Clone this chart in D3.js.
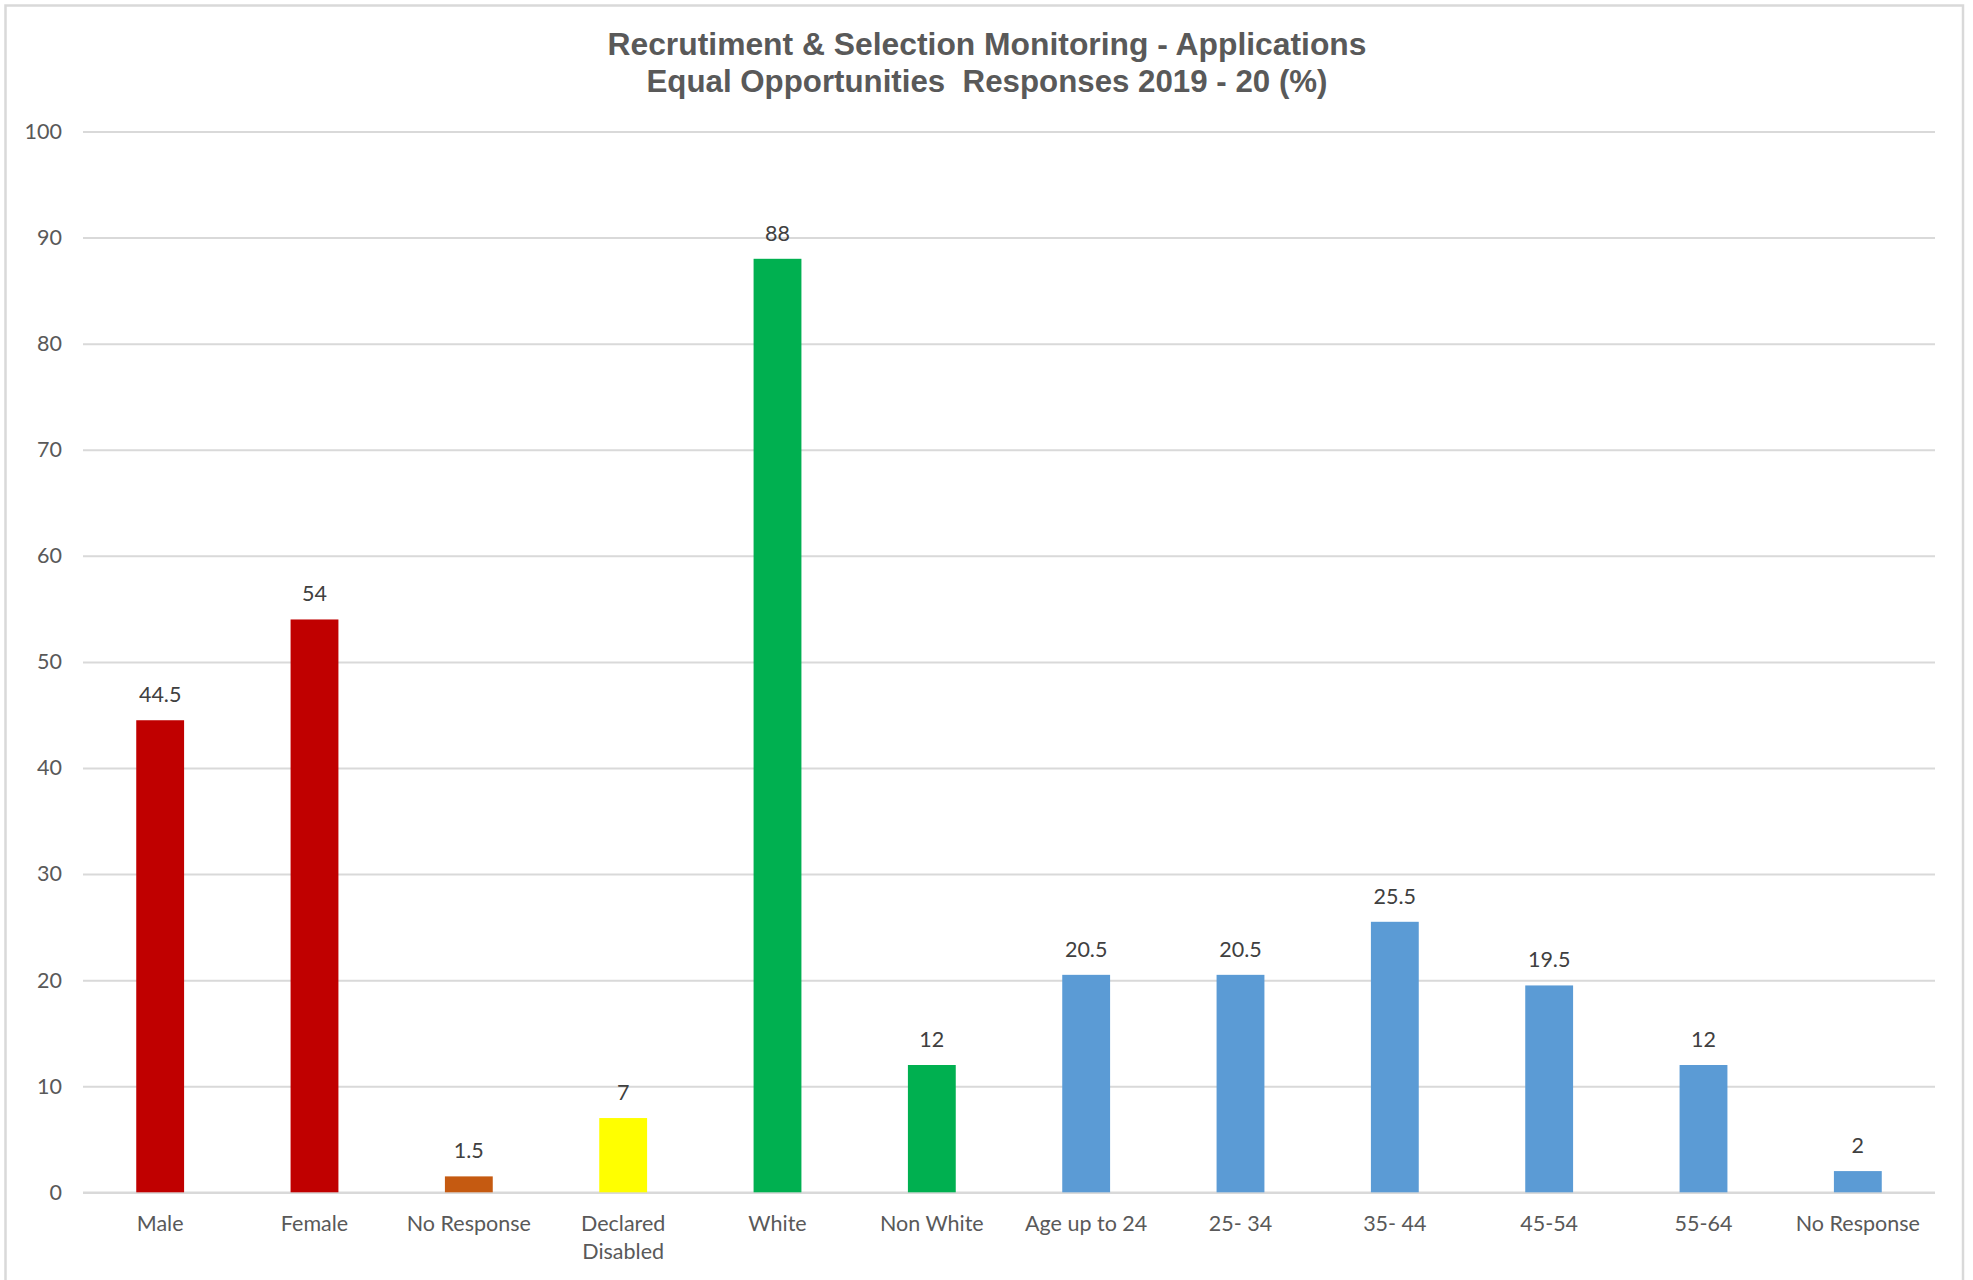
<!DOCTYPE html>
<html>
<head>
<meta charset="utf-8">
<script src="https://cdn.jsdelivr.net/npm/d3@7"></script>
<style>
  html, body { margin: 0; padding: 0; background: #fff; }
  svg { display: block; }
</style>
</head>
<body>
<svg id="chart" width="1973" height="1280"></svg>
<script>
const titleLines = [
  "Recrutiment & Selection Monitoring - Applications",
  "Equal Opportunities  Responses 2019 - 20 (%)"
];
const categories = ["Male", "Female", "No Response", "Declared\nDisabled", "White", "Non White",
  "Age up to 24", "25- 34", "35- 44", "45-54", "55-64", "No Response "];
const values = [44.5, 54, 1.5, 7, 88, 12, 20.5, 20.5, 25.5, 19.5, 12, 2];
const barColors = ["#C00000", "#C00000", "#C55A11", "#FFFF00", "#00B050", "#00B050",
  "#5B9BD5", "#5B9BD5", "#5B9BD5", "#5B9BD5", "#5B9BD5", "#5B9BD5"];
const yTicks = [0, 10, 20, 30, 40, 50, 60, 70, 80, 90, 100];

const svg = d3.select("#chart");
const plot = { left: 83, right: 1935, top: 131.5, bottom: 1192.3 };
const labelFont = "Lato, Carlito, 'Open Sans', sans-serif";

// outer chart border
svg.append("rect")
  .attr("x", 5.5).attr("y", 5.5)
  .attr("width", 1957.5).attr("height", 1290)
  .attr("fill", "#fff")
  .attr("stroke", "#D9D9D9").attr("stroke-width", 2.5);

const x = d3.scaleBand()
  .domain(categories)
  .range([plot.left, plot.right])
  .paddingInner(0.69)
  .paddingOuter(0.345);

const y = d3.scaleLinear()
  .domain([0, 100])
  .range([plot.bottom, plot.top]);

// gridlines + y tick labels
const yAxis = d3.axisLeft(y)
  .tickValues(yTicks)
  .tickSize(-(plot.right - plot.left))
  .tickPadding(21)
  .tickFormat(d3.format("d"));

const gy = svg.append("g")
  .attr("transform", `translate(${plot.left},0)`)
  .call(yAxis);
gy.select(".domain").remove();
gy.selectAll(".tick line")
  .attr("stroke", "#D9D9D9")
  .attr("stroke-width", d => d === 0 ? 2.5 : 2);
gy.selectAll(".tick text")
  .attr("fill", "#595959")
  .attr("font-family", labelFont)
  .attr("font-size", 21.5);

// bars
svg.append("g").selectAll("rect")
  .data(values)
  .join("rect")
  .attr("x", (d, i) => x(categories[i]))
  .attr("y", d => y(d))
  .attr("width", x.bandwidth())
  .attr("height", d => y(0) - y(d))
  .attr("fill", (d, i) => barColors[i]);

// value labels
svg.append("g").selectAll("text")
  .data(values)
  .join("text")
  .attr("x", (d, i) => x(categories[i]) + x.bandwidth() / 2)
  .attr("y", d => y(d) - 18)
  .attr("text-anchor", "middle")
  .attr("fill", "#404040")
  .attr("font-family", labelFont)
  .attr("font-size", 21.5)
  .text(d => d);

// category labels
const gx = svg.append("g");
categories.forEach(c => {
  const cx = x(c) + x.bandwidth() / 2;
  const t = gx.append("text")
    .attr("x", cx)
    .attr("y", 1231)
    .attr("text-anchor", "middle")
    .attr("fill", "#595959")
    .attr("font-family", labelFont)
    .attr("font-size", 21.5);
  c.trim().split("\n").forEach((line, j) => {
    t.append("tspan")
      .attr("x", cx)
      .attr("dy", j === 0 ? 0 : 28)
      .text(line);
  });
});

// title
const titleLengths = [759, 681];
titleLines.forEach((line, i) => {
  svg.append("text")
    .attr("x", 987)
    .attr("y", 55 + i * 36.5)
    .attr("text-anchor", "middle")
    .attr("fill", "#595959")
    .attr("font-family", "'Liberation Sans Narrow', 'Liberation Sans', Arial, sans-serif")
    .attr("font-weight", "bold")
    .attr("font-size", 32)
    .attr("textLength", titleLengths[i])
    .attr("lengthAdjust", "spacingAndGlyphs")
    .style("white-space", "pre")
    .text(line);
});
</script>
</body>
</html>
